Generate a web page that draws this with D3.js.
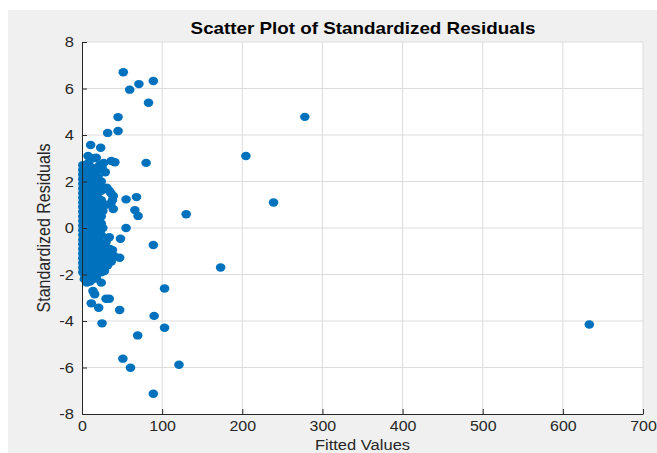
<!DOCTYPE html>
<html>
<head>
  <meta charset="utf-8">
  <title>Scatter Plot of Standardized Residuals</title>
  <script src="https://d3js.org/d3.v7.min.js"></script>
  <style>
    body { margin: 0; background: #ffffff; }
    text { font-family: "Liberation Sans", Arial, sans-serif; }
    .tick text { fill: #262626; }
  </style>
</head>
<body>
  <svg id="screen"></svg>

  <script>
    // tick labels
    const xTicks = [0, 100, 200, 300, 400, 500, 600, 700]
    const yTicks = [-8, -6, -4, -2, 0, 2, 4, 6, 8]

    // the dense cluster near zero
    const clusterFitted = [
      1,1,1,1,1,1,1,1,1,1,1,1,1,1,1,1,1,1,1,1,1,1,1,1,
      4,4,4,4,4,4,4,4,4,4,4,4,4,4,4,4,4,4,4,4,
      8,8,8,8,8,8,8,8,8,8,8,8,8,8,8,8,8,8,8,8,8,
      12,12,12,12,12,12,12,12,12,12,12,12,12,12,12,12,12,12,12,
      16,16,16,16,16,16,16,16,16,16,16,16,16,16,16,16,16,16,
      20,20,20,20,20,20,20,20,20,20,20,20,20,20,20,
      24,24,24,24,24,24,24,24,24,24,24,24,
      6,10,14,18,3,27,29,32,34,38
    ]
    const clusterResid = [
      2.7,2.5,2.3,2.1,1.9,1.7,1.5,1.3,1.1,0.9,0.7,0.5,0.3,0.1,-0.1,-0.3,-0.5,-0.7,-0.9,-1.1,-1.3,-1.5,-1.7,-1.9,
      2.6,2.35,2.1,1.85,1.6,1.35,1.1,0.85,0.6,0.35,0.1,-0.15,-0.4,-0.65,-0.9,-1.15,-1.4,-1.65,-1.9,-2.1,
      2.8,2.5,2.2,1.95,1.7,1.45,1.2,0.95,0.7,0.45,0.2,-0.05,-0.3,-0.55,-0.8,-1.05,-1.3,-1.55,-1.8,-2.05,-2.25,
      2.6,2.3,2.0,1.75,1.5,1.25,1.0,0.75,0.5,0.25,0,-0.25,-0.5,-0.75,-1.0,-1.25,-1.5,-1.75,-2.0,
      2.4,2.1,1.8,1.55,1.3,1.05,0.8,0.55,0.3,0.05,-0.2,-0.45,-0.7,-0.95,-1.2,-1.45,-1.7,-1.95,
      2.5,2.2,1.9,1.6,1.3,1.0,0.7,0.4,0.1,-0.2,-0.5,-0.8,-1.1,-1.4,-1.7,
      2.0,1.6,1.2,0.9,0.5,0.2,-0.3,-0.7,-1.0,-1.3,-1.6,-1.9,
      -2.35,-2.3,-2.2,-2.15,-2.2,-1.5,-0.8,-1.6,-0.4,-0.95
    ]

    // the looser points around and outside the cluster
    const outerFitted = [
      10.8, 23.3, 7.5, 17.8, 14, 22, 25, 29, 27, 36.6, 41, 80,
      28, 31, 34, 36, 39, 38, 36, 30, 26, 39, 55, 68, 66, 70, 130, 55,
      26, 30, 35, 40, 30, 33, 36.6, 28, 24, 48, 47, 89,
      13.7, 15.8, 30, 34, 11.6, 20.8, 47, 25, 103, 90, 103, 69.5,
      51, 60.5, 121, 89, 173, 239, 204.5, 278, 633,
      51.5, 59.5, 71, 89, 83, 45, 45, 32
    ]
    const outerResid = [
      3.57, 3.45, 3.1, 3.02, 3.0, 2.7, 2.6, 2.4, 2.8, 2.88, 2.83, 2.8,
      1.7, 1.73, 1.6, 1.5, 1.38, 1.2, 1.05, 1.0, 0.73, 0.82, 1.23, 1.33, 0.77, 0.52, 0.59, 0.0,
      0.0, -0.6, -0.9, -1.2, -1.1, -1.3, -1.44, -1.85, -2.35, -0.46, -1.28, -0.73,
      -2.71, -2.85, -3.04, -3.04, -3.24, -3.43, -3.53, -4.1, -2.6, -3.78, -4.29, -4.62,
      -5.62, -6.01, -5.88, -7.13, -1.7, 1.1, 3.1, 4.78, -4.15,
      6.7, 5.95, 6.19, 6.32, 5.39, 4.77, 4.17, 4.09
    ]

    const fitted = clusterFitted.concat(outerFitted)
    const resid = clusterResid.concat(outerResid)
    const points = fitted.map((f, i) => ({ x: f, y: resid[i] }))

    let svg = { width: 657, height: 453 }
    let margin = { top: 42, bottom: 39, left: 82, right: 14 }
    let plotW = svg.width - margin.left - margin.right
    let plotH = svg.height - margin.top - margin.bottom
    // the reference picture is a bit stretched sideways, text too
    let stretch = 1.14

    let frame = d3.select('#screen')
      .attr('width', svg.width)
      .attr('height', svg.height)

    // MATLAB figure background
    frame.append('rect')
      .attr('x', 8).attr('y', 10)
      .attr('width', svg.width - 8).attr('height', svg.height - 10)
      .attr('fill', '#f0f0f0')

    let g = frame.append('g')
      .attr('transform', `translate(${margin.left},${margin.top})`)

    g.append('rect')
      .attr('width', plotW).attr('height', plotH)
      .attr('fill', '#ffffff')

    let x = d3.scaleLinear().domain([0, 700]).range([0, plotW])
    let y = d3.scaleLinear().domain([-8, 8]).range([plotH, 0])

    // grid
    g.append('g').selectAll('line')
      .data(xTicks.slice(1))
      .join('line')
      .attr('x1', d => x(d)).attr('x2', d => x(d))
      .attr('y1', 0).attr('y2', plotH)
      .attr('stroke', '#dcdcdc')
    g.append('g').selectAll('line')
      .data(yTicks.slice(1))
      .join('line')
      .attr('x1', 0).attr('x2', plotW)
      .attr('y1', d => y(d)).attr('y2', d => y(d))
      .attr('stroke', '#dcdcdc')

    // points
    g.append('g').selectAll('ellipse')
      .data(points)
      .join('ellipse')
      .attr('cx', d => x(d.x))
      .attr('cy', d => y(d.y))
      .attr('rx', 4.8)
      .attr('ry', 4.2)
      .attr('fill', '#0072bd')

    // axes, ticks inward like matlab, plain hyphen for negatives
    let fmt = d => String(d)
    let xAxis = g.append('g')
      .attr('transform', `translate(0,${plotH})`)
      .call(d3.axisBottom(x).tickValues(xTicks).tickFormat(fmt).tickSizeInner(-5).tickSizeOuter(0).tickPadding(7))
    let yAxis = g.append('g')
      .call(d3.axisLeft(y).tickValues(yTicks).tickFormat(fmt).tickSizeInner(-5).tickSizeOuter(0).tickPadding(8))

    xAxis.select('.domain').attr('stroke', '#262626')
    yAxis.select('.domain').attr('stroke', '#262626')
    xAxis.selectAll('.tick line').attr('stroke', '#262626')
    yAxis.selectAll('.tick line').attr('stroke', '#262626')
    xAxis.selectAll('.tick text').attr('font-size', 14)
      .attr('transform', `scale(${stretch},1)`)
    yAxis.selectAll('.tick text').attr('font-size', 14.5)
      .attr('x', -8 / stretch)
      .attr('transform', `scale(${stretch},1)`)

    // title and labels
    frame.append('text')
      .attr('transform', `translate(363,34) scale(${stretch},1)`)
      .attr('text-anchor', 'middle')
      .attr('font-size', 16.5).attr('font-weight', 'bold')
      .attr('fill', '#000')
      .text('Scatter Plot of Standardized Residuals')

    frame.append('text')
      .attr('transform', `translate(${margin.left + plotW / 2},449.5) scale(${stretch},1)`)
      .attr('text-anchor', 'middle')
      .attr('font-size', 14.5)
      .attr('fill', '#262626')
      .text('Fitted Values')

    frame.append('text')
      .attr('transform', `translate(50,${margin.top + plotH / 2}) scale(${stretch},1) rotate(-90)`)
      .attr('text-anchor', 'middle')
      .attr('font-size', 16)
      .attr('fill', '#262626')
      .text('Standardized Residuals')
  </script>
</body>
</html>
